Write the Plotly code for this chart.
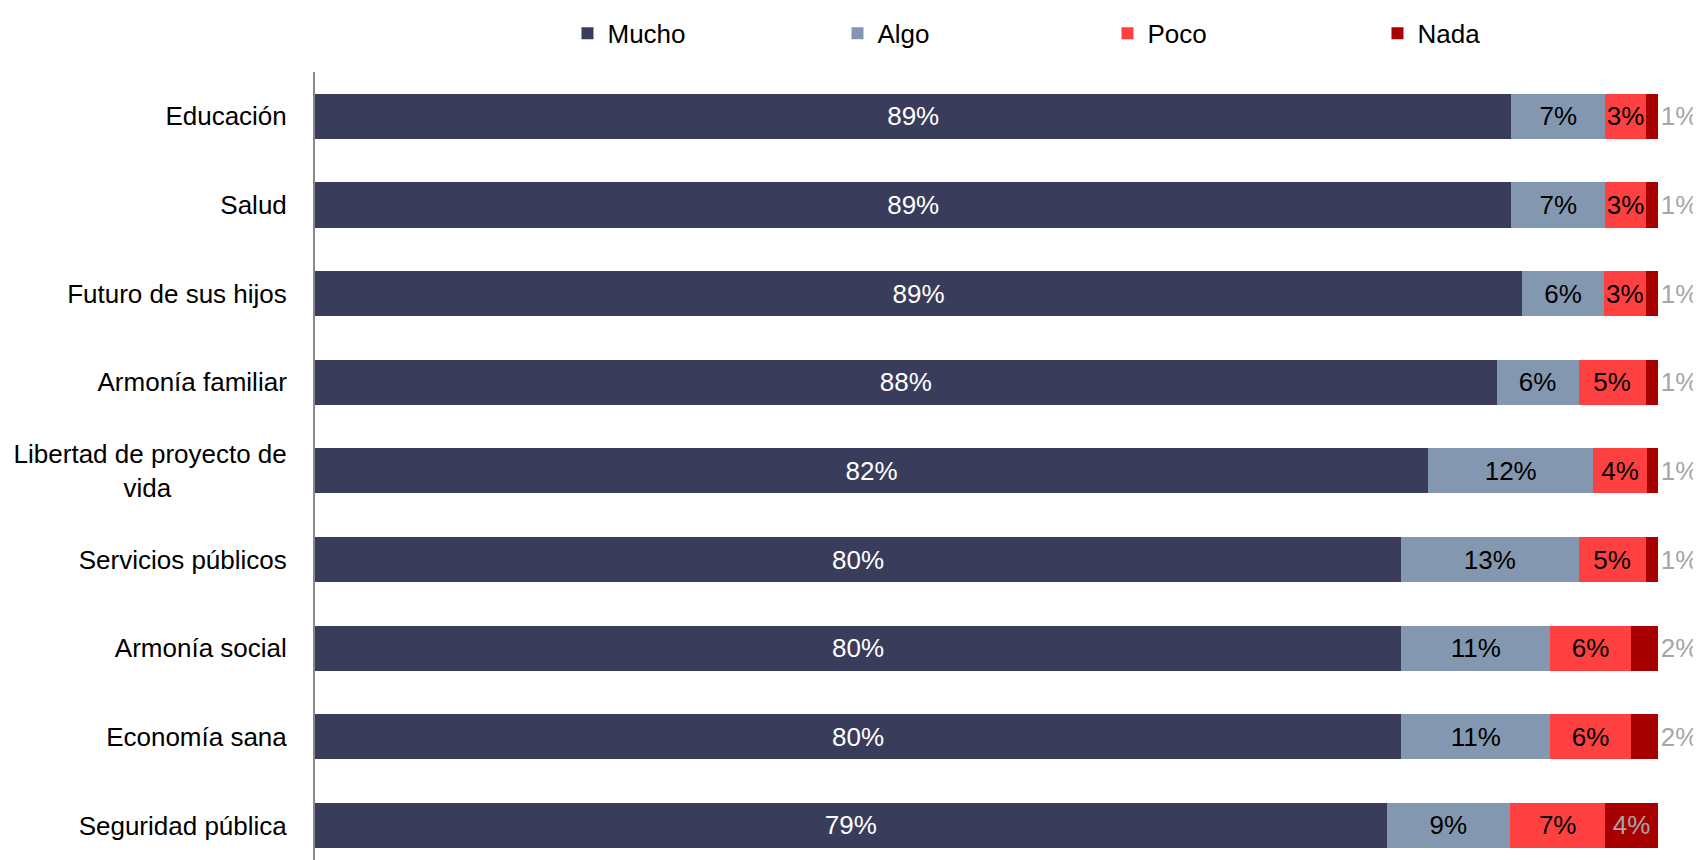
import plotly.graph_objects as go

categories = ["Educación", "Salud", "Futuro de sus hijos", "Armonía familiar",
              "Libertad de proyecto de<br>vida" + "\u00a0" * 16, "Servicios públicos",
              "Armonía social", "Economía sana", "Seguridad pública"]

mucho = [89.1, 89.1, 89.9, 88.0, 82.9, 80.9, 80.9, 80.9, 79.8]
algo = [7.0, 7.0, 6.1, 6.1, 12.3, 13.2, 11.1, 11.1, 9.2]
poco = [3.0, 3.0, 3.1, 5.0, 4.0, 5.0, 6.0, 6.0, 7.1]
nada = [0.9, 0.9, 0.9, 0.9, 0.8, 0.9, 2.0, 2.0, 3.9]

mucho_lbl = ["89%", "89%", "89%", "88%", "82%", "80%", "80%", "80%", "79%"]
algo_lbl = ["7%", "7%", "6%", "6%", "12%", "13%", "11%", "11%", "9%"]
poco_lbl = ["3%", "3%", "3%", "5%", "4%", "5%", "6%", "6%", "7%"]
nada_lbl = ["1%", "1%", "1%", "1%", "1%", "1%", "2%", "2%", "4%"]

FONT = "Liberation Sans Narrow, Arial Narrow, Liberation Sans, Arial, sans-serif"
FS = 26

series = [
    ("Mucho", mucho, mucho_lbl, "#393C5A", "#FFFFFF"),
    ("Algo", algo, algo_lbl, "#8497B0", "#000000"),
    ("Poco", poco, poco_lbl, "#FF4040", "#000000"),
    ("Nada", nada, nada_lbl, "#A80000", "#A6A6A6"),
]

fig = go.Figure()
for name, vals, lbls, color, tcolor in series:
    if name == "Nada":
        pos = ["inside" if v >= 3 else "outside" for v in vals]
    else:
        pos = "inside"
    fig.add_trace(go.Bar(
        name=name, y=categories, x=vals, orientation="h",
        marker=dict(color=color, line=dict(width=0)),
        text=lbls, textposition=pos, insidetextanchor="middle",
        textangle=0,
        textfont=dict(color=tcolor, size=FS, family=FONT),
        constraintext="none", cliponaxis=False,
        hoverinfo="skip",
    ))

# the page body adds an 8px offset; compensate so the figure sits like the reference
fig.update_layout(
    barmode="stack",
    bargap=0.49,
    width=1693, height=852,
    margin=dict(l=307, r=43, t=64, b=0),
    plot_bgcolor="white", paper_bgcolor="white",
    font=dict(family=FONT, size=FS, color="#000000"),
    showlegend=True,
    legend=dict(orientation="h", x=0.188, xanchor="left", y=1.079, yanchor="top",
                entrywidth=225, entrywidthmode="pixels",
                font=dict(size=FS, family=FONT), itemsizing="constant",
                traceorder="normal"),
    xaxis=dict(range=[0, 100.02], showgrid=False, zeroline=False, showticklabels=False,
               showline=False, fixedrange=True, automargin=False),
    yaxis=dict(categoryorder="array", categoryarray=categories, range=[8.39, -0.5],
               showgrid=False, zeroline=False, showline=True, linecolor="#888888",
               linewidth=2, ticks="", ticklabelstandoff=21, automargin=False,
               tickfont=dict(size=FS, family=FONT, color="#000000")),
)

fig.write_html("out.html")
